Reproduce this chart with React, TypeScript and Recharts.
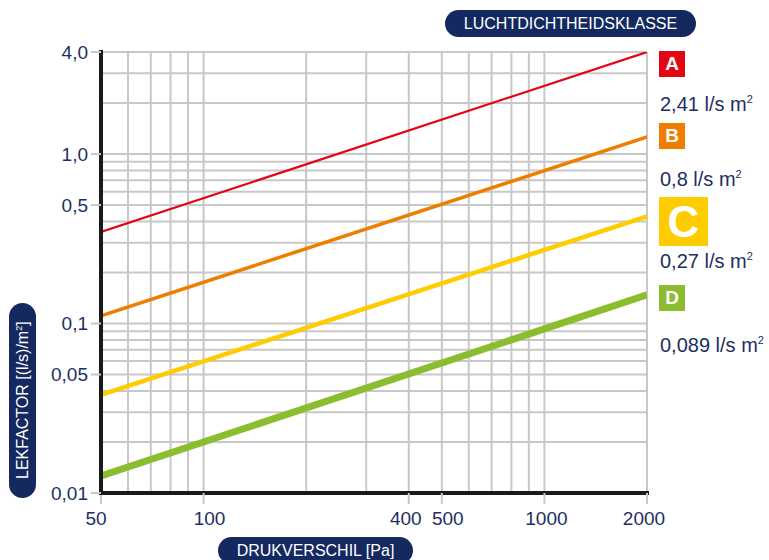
import { LineChart, Line, XAxis, YAxis, ReferenceLine } from 'recharts';

// pressure difference [Pa] at the two ends of the plot
const pressure = [50, 2000];
// leakage factor [(l/s)/m2] per class, read at 50 Pa and 2000 Pa
const classA = [0.347, 4.0];
const classB = [0.111, 1.26];
const classC = [0.0379, 0.429];
const classD = [0.0126, 0.1475];

const pressureTicks = [50, 100, 400, 500, 1000, 2000];
const pressureGrid = [60, 70, 80, 90, 100, 200, 300, 400, 500, 600, 700, 800, 900, 1000, 2000];
const factorTicks = [0.01, 0.05, 0.1, 0.5, 1, 4];
const factorTickLabels = ['0,01', '0,05', '0,1', '0,5', '1,0', '4,0'];
const factorGrid = [
  0.02, 0.03, 0.04, 0.05, 0.06, 0.07, 0.08, 0.09,
  0.1, 0.2, 0.3, 0.4, 0.5, 0.6, 0.7, 0.8, 0.9,
  1, 2, 3, 4,
];

const classNames = ['A', 'B', 'C', 'D'];
const classRates = ['2,41', '0,8', '0,27', '0,089'];

const NAVY = '#14295f';
const TEXT = '#1c2f63';
const GRID = '#c8c8c8';
const FONT = '"Liberation Sans", Arial, Helvetica, sans-serif';

const series = [
  { key: 'A', color: '#e30613', width: 2.2 },
  { key: 'B', color: '#ef7d00', width: 3.5 },
  { key: 'C', color: '#ffcc00', width: 4.5 },
  { key: 'D', color: '#8cbd31', width: 7 },
];

const data = pressure.map((p, i) => ({
  p,
  A: classA[i],
  B: classB[i],
  C: classC[i],
  D: classD[i],
}));

// small nudges so the pressure labels sit like in the print (400/500 pushed apart)
const xLabelNudge: Record<number, number> = { 50: -5, 100: 6, 400: -3, 500: 6, 1000: 2, 2000: -3 };

const PressureTick = ({ x, y, payload }: any) => (
  <text
    x={x + (xLabelNudge[payload.value] ?? 0)}
    y={y}
    dy="0.71em"
    textAnchor="middle"
    fill={TEXT}
    fontSize={19}
    fontFamily={FONT}
  >
    {payload.value}
  </text>
);

const pill: React.CSSProperties = {
  position: 'absolute',
  background: NAVY,
  color: '#fff',
  fontFamily: FONT,
  fontSize: 16,
  display: 'flex',
  alignItems: 'center',
  justifyContent: 'center',
  whiteSpace: 'nowrap',
};

// legend boxes on the right
const boxes = [
  { top: 51, size: 26, font: 19 },
  { top: 123, size: 26, font: 19 },
  { top: 197, size: 49, font: 44 },
  { top: 285, size: 26, font: 19 },
];
const rateCenters = [104, 179, 261, 345];

export default function App() {
  return (
    <div style={{ position: 'absolute', left: 0, top: 0, width: 769, height: 560, overflow: 'hidden', background: '#fff' }}>
      <LineChart
        width={769}
        height={560}
        data={data}
        margin={{ top: 52, right: 122, bottom: 0, left: 0 }}
      >
        <XAxis
          type="number"
          dataKey="p"
          scale="log"
          domain={[50, 2000]}
          ticks={pressureTicks}
          interval={0}
          allowDataOverflow
          height={67}
          axisLine={{ stroke: '#1a1a1a', strokeWidth: 4, strokeLinecap: 'square' }}
          tickLine={{ stroke: GRID, strokeWidth: 2 }}
          tickSize={11}
          tickMargin={8}
          tick={<PressureTick />}
        />
        <YAxis
          type="number"
          scale="log"
          domain={[0.01, 4]}
          ticks={factorTicks}
          interval={0}
          allowDataOverflow
          width={101}
          axisLine={{ stroke: '#1a1a1a', strokeWidth: 4, strokeLinecap: 'square' }}
          tickLine={{ stroke: GRID, strokeWidth: 2 }}
          tickSize={10}
          tickMargin={3}
          tick={{ fill: TEXT, fontSize: 19, fontFamily: FONT }}
          tickFormatter={(v: number) => factorTickLabels[factorTicks.indexOf(v)] ?? String(v)}
        />
        {pressureGrid.map(v => (
          <ReferenceLine key={'x' + v} x={v} stroke={GRID} strokeWidth={2} />
        ))}
        {factorGrid.map(v => (
          <ReferenceLine key={'y' + v} y={v} stroke={GRID} strokeWidth={2} />
        ))}
        {series.map(s => (
          <Line
            key={s.key}
            type="linear"
            dataKey={s.key}
            stroke={s.color}
            strokeWidth={s.width}
            dot={false}
            activeDot={false}
            isAnimationActive={false}
          />
        ))}
      </LineChart>

      <div style={{ ...pill, left: 445, top: 10, width: 251, height: 27, borderRadius: 14 }}>
        LUCHTDICHTHEIDSKLASSE
      </div>
      <div style={{ ...pill, left: 218, top: 537, width: 195, height: 27, borderRadius: 14 }}>
        DRUKVERSCHIL [Pa]
      </div>
      <div style={{ ...pill, left: 9, top: 303, width: 27, height: 195, borderRadius: 14 }}>
        <span style={{ display: 'inline-block', transform: 'rotate(-90deg)' }}>
          LEKFACTOR [(l/s)/m<sup style={{ fontSize: 9 }}>2</sup>]
        </span>
      </div>

      {series.map((s, i) => (
        <div
          key={'box' + s.key}
          style={{
            position: 'absolute',
            left: 659,
            top: boxes[i].top,
            width: boxes[i].size,
            height: boxes[i].size,
            background: s.color,
            color: '#fff',
            fontFamily: FONT,
            fontWeight: 'bold',
            fontSize: boxes[i].font,
            display: 'flex',
            alignItems: 'center',
            justifyContent: 'center',
          }}
        >
          {classNames[i]}
        </div>
      ))}
      {classRates.map((r, i) => (
        <div
          key={'rate' + i}
          style={{
            position: 'absolute',
            left: 660,
            top: rateCenters[i] - 10,
            fontFamily: FONT,
            fontSize: 20,
            lineHeight: '20px',
            color: TEXT,
            whiteSpace: 'nowrap',
          }}
        >
          {r} l/s m<sup style={{ fontSize: 11, verticalAlign: 'top', lineHeight: '10px' }}>2</sup>
        </div>
      ))}
    </div>
  );
}
